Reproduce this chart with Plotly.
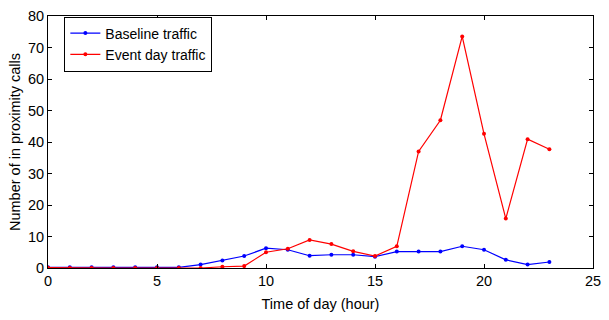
import plotly.graph_objects as go

hours = list(range(24))
baseline = [0.2, 0.2, 0.2, 0.2, 0.2, 0.2, 0.2, 1.1, 2.4, 3.8, 6.3, 5.8, 3.9, 4.2, 4.2, 3.6,
            5.2, 5.2, 5.2, 6.9, 5.8, 2.6, 1.1, 1.9]
event = [0.1, 0.0, 0.0, 0.0, 0.0, 0.0, 0.0, 0.0, 0.4, 0.6, 5.0, 6.1, 8.9, 7.6, 5.3, 3.8,
         6.9, 37.0, 46.9, 73.5, 42.6, 15.7, 40.9, 37.7]

FS = 14.5
fig = go.Figure()
fig.add_trace(go.Scatter(x=hours, y=baseline, mode="lines+markers", name="Baseline traffic",
                         line=dict(color="#0000ff", width=1.2), marker=dict(size=4, color="#0000ff")))
fig.add_trace(go.Scatter(x=hours, y=event, mode="lines+markers", name="Event day traffic",
                         line=dict(color="#ff0000", width=1.2), marker=dict(size=4, color="#ff0000")))

axis_common = dict(showgrid=False, zeroline=False, showline=True, linecolor="black", linewidth=1,
                   mirror="allticks", ticks="inside", ticklen=4, tickcolor="black",
                   tickfont=dict(family="Liberation Sans, Arial", size=FS, color="black"))

fig.update_layout(
    width=609, height=320,
    margin=dict(l=48, r=8, t=9, b=52),
    plot_bgcolor="white", paper_bgcolor="white",
    font=dict(family="Liberation Sans, Arial", size=FS, color="black"),
    xaxis=dict(range=[0, 25], tickvals=[0, 5, 10, 15, 20, 25],
               title=dict(text="Time of day (hour)", font=dict(size=FS), standoff=10), **axis_common),
    yaxis=dict(range=[0, 80], tickvals=[0, 10, 20, 30, 40, 50, 60, 70, 80],
               title=dict(text="Number of in proximity calls", font=dict(size=FS), standoff=3), **axis_common),
    legend=dict(x=0.03, y=0.998, xanchor="left", yanchor="top", bordercolor="black", borderwidth=1,
                bgcolor="white", font=dict(size=14), tracegroupgap=0, itemwidth=30),
    showlegend=True,
)

fig.write_html("out.html")
